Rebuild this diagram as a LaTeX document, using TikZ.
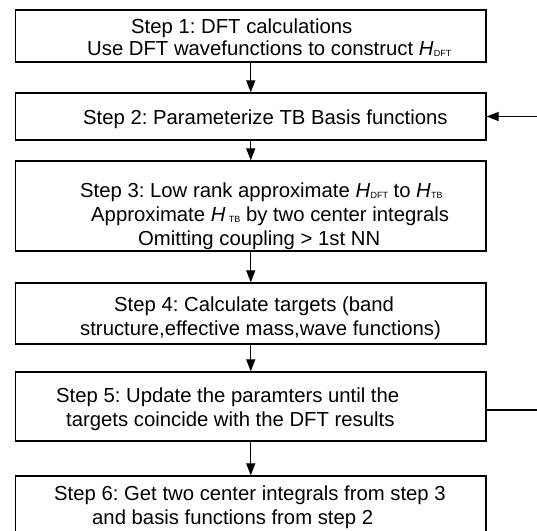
\documentclass[tikz,border=0pt]{standalone}
\usepackage{fontspec}
\setmainfont{Liberation Sans}
\usetikzlibrary{arrows.meta}
\frenchspacing
% italic H with a small upright subscript
\newcommand\hsym[1]{\textit{H}\kern0.3pt\raisebox{-1.8pt}{\fontsize{9}{9}\selectfont #1}}
\begin{document}
\begin{tikzpicture}[x=1pt,y=-1pt,
  stepbox/.style={draw=black, line width=1.3pt, inner sep=0pt, minimum width=470.5pt},
  txt/.style={anchor=base west, inner sep=0pt, font=\fontsize{20.3}{24}\selectfont},
  flow/.style={line width=1.2pt, -{Triangle[length=12pt,width=9pt]}},
  plain/.style={line width=1.2pt},
]
\useasboundingbox (0,0) rectangle (537,530);
\clip (0,0) rectangle (537,530);
\fill[white] (0,0) rectangle (537,530);

% step boxes
\node[stepbox, minimum height=52pt] (s1) at (250.75,36) {};
\node[stepbox, minimum height=47pt] (s2) at (250.75,116.5) {};
\node[stepbox, minimum height=90pt] (s3) at (250.75,206) {};
\node[stepbox, minimum height=61pt] (s4) at (250.75,313.5) {};
\node[stepbox, minimum height=69pt] (s5) at (250.75,406.5) {};
\node[stepbox, minimum height=90pt] (s6) at (250.75,521) {};

% box texts
\node[txt] (t1a) at (131,33) {Step 1: DFT calculations};
\node[txt] (t1b) at (87,55) {Use DFT wavefunctions to construct \hsym{DFT}};
\node[txt] (t2)  at (83,124) {Step 2: Parameterize TB Basis functions};
\node[txt] (t3a) at (80,197) {Step 3: Low rank approximate \hsym{DFT} to \hsym{TB}};
\node[txt] (t3b) at (91,221) {Approximate \textit{H}\,\raisebox{-1.8pt}{\fontsize{9}{9}\selectfont TB} by two center integrals};
\node[txt] (t3c) at (138,245) {Omitting coupling > 1st NN};
\node[txt] (t4a) at (114,311) {Step 4: Calculate targets (band};
\node[txt] (t4b) at (80,335) {structure,effective mass,wave functions)};
\node[txt] (t5a) at (56,402) {Step 5: Update the paramters until the};
\node[txt] (t5b) at (66,426) {targets coincide with the DFT results};
\node[txt] (t6a) at (54,500) {Step 6: Get two center integrals from step 3};
\node[txt] (t6b) at (92,524) {and basis functions from step 2};

% downward flow
\draw[flow] (s1.south) -- (s2.north);
\draw[flow] (s2.south) -- (s3.north);
\draw[flow] (s3.south) -- (s4.north);
\draw[flow] (s4.south) -- (s5.north);
\draw[flow] (s5.south) -- (s6.north);

% feedback loop from step 5 back to step 2
\coordinate (loopout) at (537,410);
\coordinate (loopin) at (537,116.5);
\draw[plain] (s5.east |- loopout) -- (loopout);
\draw[flow] (loopin) -- (s2.east |- loopin);
\end{tikzpicture}
\end{document}
